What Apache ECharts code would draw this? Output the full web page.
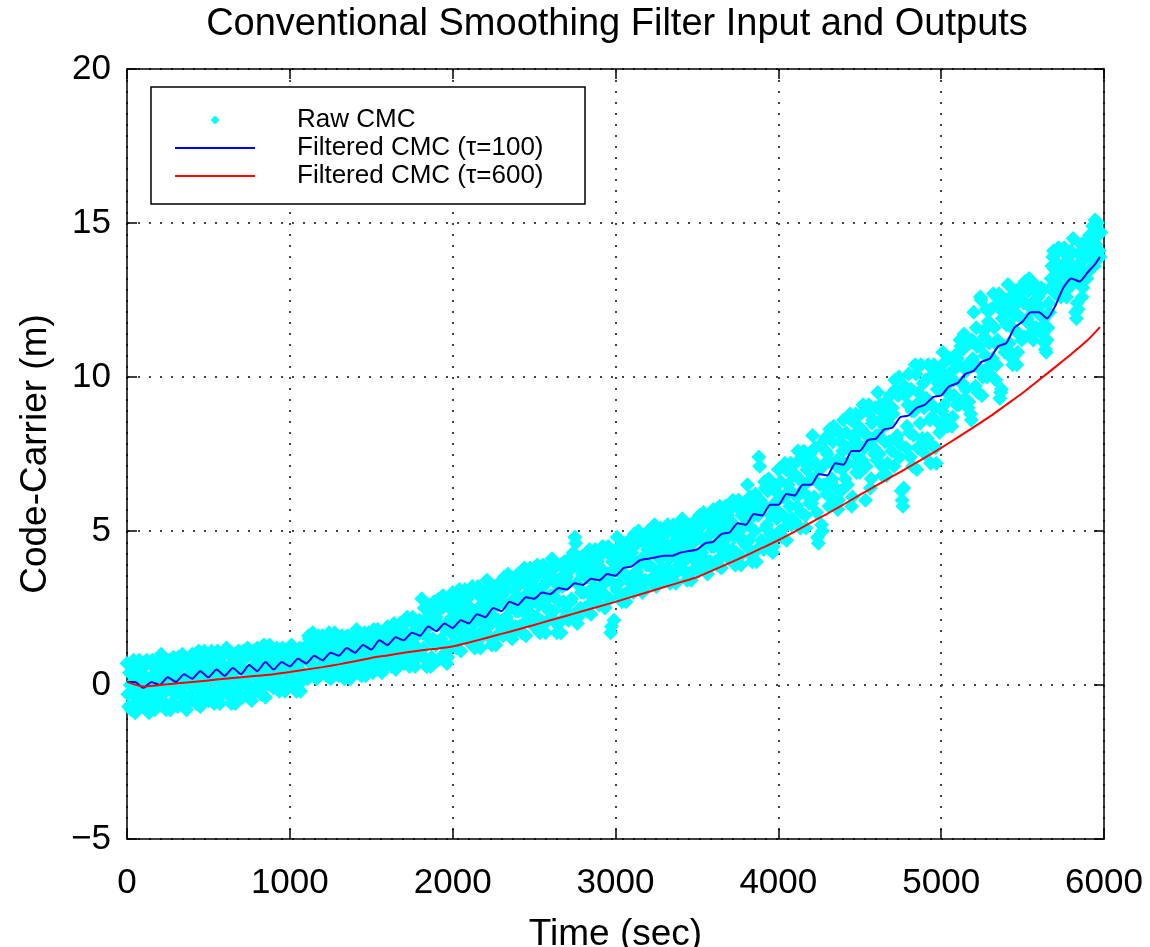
<!DOCTYPE html>
<html>
<head>
<meta charset="utf-8">
<script src="https://cdn.jsdelivr.net/npm/echarts@6/dist/echarts.min.js"></script>
<style>
html,body{margin:0;padding:0;background:#fff;}
#chart{width:1150px;height:947px;}
</style>
</head>
<body>
<div id="chart"></div>
<script>
// ---- data ----
const xTicks = [0, 1000, 2000, 3000, 4000, 5000, 6000];
const yTicks = [-5, 0, 5, 10, 15, 20];

// Raw CMC samples, one every 10 s starting at t = 0
const rawStep = 10;
const rawCMC = [
 0.7,-0.7,0.0,-0.3,0.8,-0.9,0.3,-0.1,-0.5,0.5,
 -0.7,0.2,0.8,-0.2,-0.5,0.7,0.1,-0.8,0.5,-0.3,
 0.1,1.0,-0.3,0.4,-0.8,0.3,0.8,-0.6,-0.1,0.6,
 0.4,-0.7,0.7,-0.2,1.0,-0.4,0.2,-0.6,0.6,0.0,
 1.0,-0.5,0.3,-0.1,1.1,-0.7,0.6,0.1,-0.3,0.8,
 -0.5,0.5,1.1,0.1,-0.3,0.9,0.3,-0.6,0.7,-0.1,
 0.3,1.2,-0.1,0.6,-0.6,0.5,1.0,-0.3,0.1,0.9,
 0.6,-0.4,1.0,0.1,1.2,-0.1,0.5,-0.3,0.9,0.3,
 1.2,-0.2,0.6,0.2,1.3,-0.4,0.8,0.4,0.0,1.0,
 -0.1,0.7,1.2,0.4,0.1,1.1,0.6,-0.2,0.9,0.2,
 0.6,1.3,0.2,0.8,-0.2,0.7,1.2,0.1,0.4,1.0,
 1.2,0.2,1.5,0.7,1.7,0.5,1.1,0.3,1.4,0.9,
 1.6,0.4,1.0,0.7,1.7,0.2,1.3,0.9,0.5,1.4,
 0.3,1.1,1.6,0.8,0.5,1.5,1.0,0.2,1.3,0.6,
 1.0,1.8,0.7,1.3,0.3,1.2,1.7,0.5,0.9,1.5,
 1.3,0.4,1.6,0.9,1.8,0.7,1.2,0.5,1.5,1.0,
 1.9,0.7,1.3,1.0,2.0,0.5,1.6,1.2,0.8,1.7,
 0.7,1.7,2.2,1.3,0.9,2.1,1.5,0.6,1.9,1.1,
 1.7,2.8,1.2,2.1,0.6,1.9,2.6,0.9,1.5,2.4,
 2.2,0.8,2.6,1.5,2.9,1.3,2.0,0.9,2.5,1.7,
 3.0,1.4,2.2,1.8,3.1,1.1,2.6,2.0,1.6,2.8,
 1.4,2.5,3.2,2.0,1.6,3.0,2.3,1.2,2.8,1.8,
 2.4,3.4,1.9,2.7,1.3,2.6,3.2,1.6,2.1,3.0,
 2.9,1.6,3.3,2.2,3.6,2.0,2.7,1.7,3.1,2.4,
 3.6,1.9,2.8,2.4,3.8,1.6,3.2,2.6,2.1,3.4,
 1.9,3.1,3.9,2.6,2.1,3.7,2.9,1.7,3.4,2.4,
 2.9,4.1,2.4,3.4,1.7,3.2,3.9,2.1,2.7,3.6,
 3.5,2.1,4.0,2.8,4.3,4.8,3.3,2.2,3.8,3.0,
 4.2,2.5,3.5,3.0,4.4,2.3,3.8,3.2,2.8,4.0,
 2.6,3.8,4.5,3.3,2.9,4.3,3.6,1.7,4.0,2.1,
 3.8,4.8,3.3,4.1,2.7,4.0,4.6,3.0,3.5,4.4,
 4.3,3.0,4.7,3.7,5.0,3.5,4.1,3.1,4.6,3.9,
 5.0,3.4,4.3,3.8,5.2,3.2,4.6,4.1,3.6,4.8,
 3.4,4.5,5.2,4.1,3.6,5.0,4.3,3.3,4.8,3.9,
 4.4,5.4,4.0,4.8,3.4,4.6,5.2,3.7,4.2,5.0,
 4.9,3.7,5.3,4.3,5.6,4.1,4.8,3.8,5.2,4.5,
 5.7,4.0,4.9,4.5,5.8,3.8,5.2,4.7,4.2,5.5,
 4.1,5.3,6.0,4.8,4.3,5.8,5.0,3.9,5.6,4.6,
 5.2,6.5,4.7,5.7,4.0,5.5,6.2,4.4,7.4,6.0,
 5.9,4.4,6.4,5.2,6.7,4.9,5.8,4.5,6.3,5.4,
 7.0,5.0,6.1,5.5,7.2,4.7,6.5,5.8,5.2,6.8,
 5.3,6.8,7.6,6.2,5.6,7.4,6.5,5.1,7.1,5.9,
 6.7,8.1,6.1,7.2,4.8,7.0,7.8,5.0,6.5,7.6,
 7.5,5.8,8.1,6.7,8.4,6.4,7.3,6.0,7.9,7.0,
 8.6,6.7,7.7,7.2,8.8,5.8,8.1,7.5,6.9,8.4,
 6.9,8.3,9.1,7.7,7.1,8.9,8.0,6.7,8.6,7.5,
 8.1,9.5,7.5,8.6,6.8,8.4,9.2,7.2,7.9,9.0,
 9.0,7.1,9.6,8.1,10.0,7.8,6.0,6.4,9.4,8.4,
 10.1,7.4,8.9,8.1,10.4,7.0,9.5,8.5,7.7,9.8,
 7.5,9.3,10.4,8.6,7.8,10.1,9.0,7.2,9.8,8.2,
 9.6,10.8,9.1,10.0,8.4,9.8,10.6,8.7,9.4,10.3,
 10.6,9.1,11.0,9.8,11.4,9.6,10.4,9.2,8.8,11.2,
 12.1,9.7,11.0,10.3,12.6,9.4,11.5,10.7,10.0,11.8,
 10.1,11.7,12.7,11.1,10.4,12.4,9.3,9.6,12.1,10.8,
 11.7,13.0,11.1,12.2,10.4,12.0,12.8,10.8,11.4,12.5,
 12.5,11.3,12.9,11.9,13.2,11.7,12.4,11.4,12.8,12.1,
 12.7,11.6,12.8,11.9,10.9,11.2,12.4,12.9,13.6,14.1,
 12.7,13.7,14.2,13.3,12.9,14.1,13.5,12.6,13.9,13.1,
 13.5,14.5,13.1,11.9,12.2,13.7,14.3,12.9,13.4,14.1,
 13.4,14.6,13.9,14.9,13.6,14.3,15.0,14.1,14.7
];
// Raw CMC samples in between, one every 10 s starting at t = 5
const rawStart2 = 5;
const rawCMC2 = [
 -0.3,0.4,-0.8,0.0,0.6,-0.6,0.2,0.8,-0.4,0.1,
 0.6,-0.4,0.2,-0.9,-0.1,0.8,-0.6,0.4,-0.2,0.7,
 -0.5,0.1,0.7,-0.6,0.5,-0.1,-0.8,0.3,0.9,-0.3,
 0.2,0.9,-0.2,0.6,-0.6,0.1,-0.8,0.8,-0.4,0.4,
 -0.1,0.7,-0.6,0.3,0.9,-0.4,0.5,1.1,-0.2,0.4,
 0.8,-0.2,0.5,-0.6,0.2,1.1,-0.4,0.6,0.1,1.0,
 -0.2,0.3,1.0,-0.4,0.7,0.2,-0.6,0.5,1.1,0.0,
 0.5,1.1,0.1,0.9,-0.3,0.4,-0.5,1.1,-0.1,0.7,
 0.2,0.9,-0.3,0.6,1.2,0.0,0.7,1.3,0.1,0.6,
 1.0,0.2,0.7,-0.2,0.5,1.2,0.0,0.9,0.4,1.1,
 0.1,0.6,1.1,0.0,0.9,0.5,-0.2,0.8,1.2,0.3,
 1.1,1.6,0.7,1.4,0.3,1.0,0.2,1.6,0.5,1.2,
 0.7,1.3,0.3,1.0,1.6,0.5,1.2,1.7,0.6,1.1,
 1.4,0.6,1.1,0.2,0.9,1.6,0.4,1.3,0.8,1.5,
 0.6,1.0,1.6,0.4,1.4,0.9,0.3,1.2,1.7,0.7,
 1.2,1.8,0.8,1.5,0.5,1.1,0.4,1.7,0.7,1.4,
 1.0,1.6,0.6,1.3,1.9,0.8,1.5,2.0,0.9,1.4,
 2.0,1.0,1.6,0.6,1.4,2.2,0.8,1.8,1.2,2.1,
 1.0,1.7,2.5,0.8,2.2,1.5,0.6,2.0,2.7,1.3,
 2.0,2.8,1.4,2.5,1.0,1.8,0.7,2.7,1.2,2.2,
 1.8,2.6,1.2,2.2,2.9,1.5,2.4,3.1,1.7,2.3,
 2.9,1.7,2.4,1.2,2.1,3.2,1.5,2.6,2.0,3.0,
 1.7,2.3,3.1,1.5,2.8,2.2,1.3,2.6,3.3,1.9,
 2.7,3.5,2.2,3.1,1.7,2.5,1.5,3.4,1.9,2.9,
 2.4,3.3,1.7,2.8,3.6,2.1,3.0,3.8,2.3,2.9,
 3.5,2.2,3.1,1.7,2.7,3.9,2.0,3.3,2.5,3.7,
 2.2,2.9,3.8,2.0,3.4,2.7,1.7,3.2,4.0,2.4,
 3.3,4.1,2.7,3.8,2.3,4.6,2.0,4.0,2.5,3.6,
 3.0,3.9,2.4,3.5,4.2,2.7,3.7,4.4,2.9,3.6,
 4.2,3.0,3.7,2.5,3.4,4.5,2.8,1.9,3.3,4.3,
 3.1,3.7,4.5,2.9,4.2,3.6,2.7,4.0,4.7,3.3,
 4.1,4.9,3.6,4.6,3.2,4.0,3.0,4.8,3.4,4.4,
 3.9,4.7,3.3,4.3,5.0,3.6,4.5,5.1,3.8,4.4,
 4.9,3.8,4.5,3.3,4.2,5.2,3.6,4.7,4.1,5.1,
 3.8,4.4,5.1,3.6,4.8,4.2,3.4,4.6,5.3,4.0,
 4.8,5.5,4.2,5.2,3.8,4.6,3.6,5.4,4.0,5.0,
 4.5,5.3,3.9,4.9,5.6,4.2,5.1,5.8,4.4,5.0,
 5.7,4.4,5.2,3.9,4.9,6.0,4.2,5.5,4.7,5.9,
 4.5,5.2,6.1,4.2,5.8,5.0,4.0,5.5,7.1,4.7,
 5.8,6.6,5.1,6.3,4.6,5.5,4.3,6.5,4.8,6.0,
 5.6,6.6,4.8,6.1,7.0,5.2,6.3,7.2,5.4,6.2,
 7.2,5.8,6.7,5.1,6.3,7.6,5.5,7.0,6.1,7.5,
 5.9,6.7,7.7,5.6,4.6,6.5,5.2,7.1,8.0,6.2,
 7.3,8.3,6.6,7.9,6.0,7.1,5.7,8.2,6.3,7.6,
 7.2,8.2,6.5,7.7,8.6,6.1,8.0,8.8,7.1,7.8,
 8.8,7.3,8.2,6.0,7.8,9.1,6.4,8.5,7.7,9.0,
 7.3,8.1,9.1,7.1,8.8,7.9,6.8,8.5,9.4,7.6,
 8.8,9.9,8.0,9.4,7.4,6.3,5.8,9.7,7.7,9.1,
 8.2,9.6,7.1,8.9,10.1,7.7,9.2,10.4,8.0,9.0,
 9.9,8.0,9.2,7.2,8.7,10.4,7.7,9.6,8.5,10.2,
 8.9,9.6,10.5,8.6,10.1,9.4,8.4,9.9,10.7,9.1,
 10.4,11.2,9.8,10.9,9.3,10.2,9.0,11.1,8.6,10.6,
 10.4,11.6,9.5,11.0,12.5,10.0,11.3,12.2,10.3,11.1,
 12.2,10.6,11.6,9.9,11.2,12.7,9.5,11.9,11.0,12.5,
 10.9,11.7,12.6,10.6,12.3,11.5,10.4,12.0,12.9,11.2,
 12.4,13.1,11.8,12.8,11.4,12.2,11.2,13.0,11.6,12.6,
 12.3,12.9,11.4,11.1,10.8,11.6,12.1,13.2,13.9,13.5,
 14.0,13.0,13.6,12.6,13.4,14.2,12.8,13.8,13.2,14.1,
 13.0,13.5,12.1,12.4,14.0,13.4,12.6,13.8,14.4,13.2,
 14.2,13.5,14.5,13.8,15.1,14.0,14.6,13.9
];

// Filtered CMC (tau = 100)
const tau100Time = [
 0,50,100,150,200,250,300,350,400,450,500,550,600,650,700,750,800,850,900,950,
 1000,1050,1100,1150,1200,1250,1300,1350,1400,1450,1500,1550,1600,1650,1700,1750,1800,1850,1900,1950,
 2000,2050,2100,2150,2200,2250,2300,2350,2400,2450,2500,2550,2600,2650,2700,2750,2800,2850,2900,2950,
 3000,3050,3100,3150,3200,3250,3300,3350,3400,3450,3500,3550,3600,3650,3700,3750,3800,3850,3900,3950,
 4000,4050,4100,4150,4200,4250,4300,4350,4400,4450,4500,4550,4600,4650,4700,4750,4800,4850,4900,4950,
 5000,5050,5100,5150,5200,5250,5300,5350,5400,5450,5500,5550,5600,5650,5700,5750,5800,5850,5900,5950,5975
];
const tau100Value = [
 0.1,0.1,-0.1,0.1,0.0,0.25,0.1,0.35,0.2,0.45,0.25,0.5,0.3,0.55,0.35,0.65,0.45,0.75,0.5,0.75,
 0.6,0.85,0.7,0.95,0.8,1.05,0.95,1.2,1.05,1.3,1.15,1.45,1.3,1.55,1.45,1.7,1.6,1.9,1.75,2.0,
 1.85,2.1,2.0,2.3,2.2,2.5,2.4,2.7,2.6,2.85,2.8,3.0,2.95,3.15,3.1,3.3,3.25,3.45,3.4,3.6,
 3.55,3.8,3.85,4.05,4.1,4.15,4.2,4.2,4.3,4.35,4.4,4.6,4.65,4.9,4.95,5.25,5.2,5.55,5.5,5.85,
 5.85,6.2,6.15,6.5,6.5,6.85,6.8,7.2,7.15,7.6,7.6,7.95,8.0,8.3,8.35,8.7,8.75,9.0,9.1,9.35,
 9.4,9.7,9.8,10.1,10.2,10.5,10.6,11.0,11.1,11.6,11.8,12.1,12.1,11.9,12.3,12.9,13.2,13.1,13.4,13.7,13.9
];

// Filtered CMC (tau = 600)
const tau600Time = [
 0,100,200,300,400,500,600,700,800,900,1000,1100,1200,1300,1400,1500,1600,1700,1800,1900,
 2000,2100,2200,2300,2400,2500,2600,2700,2800,2900,3000,3100,3200,3300,3400,3500,3600,3700,3800,3900,
 4000,4100,4200,4300,4400,4500,4600,4700,4800,4900,5000,5100,5200,5300,5400,5500,5600,5700,5800,5900,5975
];
const tau600Value = [
 0.1,-0.05,0.0,0.05,0.1,0.15,0.2,0.25,0.3,0.35,0.42,0.5,0.58,0.67,0.77,0.88,0.96,1.05,1.12,1.18,
 1.25,1.38,1.52,1.66,1.8,1.95,2.1,2.25,2.4,2.55,2.7,2.86,3.02,3.18,3.34,3.5,3.73,3.96,4.2,4.45,
 4.7,4.98,5.27,5.56,5.86,6.17,6.47,6.77,7.07,7.38,7.7,8.03,8.37,8.72,9.1,9.48,9.9,10.32,10.75,11.2,11.62
];

const seriesNames = ['Raw CMC', 'Filtered CMC (\u03c4=100)', 'Filtered CMC (\u03c4=600)'];
const titleText = 'Conventional Smoothing Filter Input and Outputs';
const xName = 'Time (sec)';
const yName = 'Code-Carrier (m)';

// ---- build chart ----
const FONT = 'Liberation Sans, Arial, Helvetica, sans-serif';
const rawData = rawCMC.map((v, i) => [i * rawStep, v])
  .concat(rawCMC2.map((v, i) => [rawStart2 + i * rawStep, v]));
const blueData = tau100Time.map((t, i) => [t, tau100Value[i]]);
const redData = tau600Time.map((t, i) => [t, tau600Value[i]]);

const axisLineStyle = { color: '#000', width: 1.5 };
const gridDots = { color: '#444', width: 2, type: [2, 9] };
const minus = v => String(v).replace('-', '\u2212');
const plain = v => String(v);

const chart = echarts.init(document.getElementById('chart'), null, { renderer: 'canvas' });
chart.setOption({
  animation: false,
  backgroundColor: '#fff',
  textStyle: { fontFamily: FONT },
  title: {
    text: titleText,
    left: 612, top: 1, textAlign: 'center',
    textStyle: { fontFamily: FONT, fontSize: 38, fontWeight: 'normal', color: '#000' }
  },
  grid: { left: 127, right: 46, top: 69, bottom: 108, containLabel: false, outerBoundsMode: 'none' },
  xAxis: [{
    type: 'value', position: 'bottom',
    min: xTicks[0], max: xTicks[xTicks.length - 1], interval: xTicks[1] - xTicks[0],
    name: xName, nameLocation: 'middle', nameGap: 77,
    nameTextStyle: { fontFamily: FONT, fontSize: 37, color: '#000' },
    axisLine: { show: true, onZero: false, lineStyle: axisLineStyle },
    axisTick: { show: true, inside: true, length: 10, lineStyle: axisLineStyle },
    axisLabel: { fontFamily: FONT, fontSize: 35, color: '#000', margin: 27, formatter: plain },
    splitLine: { show: true, lineStyle: gridDots }
  }, {
    type: 'value', position: 'top',
    min: xTicks[0], max: xTicks[xTicks.length - 1], interval: xTicks[1] - xTicks[0],
    axisLine: { show: true, onZero: false, lineStyle: axisLineStyle },
    axisTick: { show: true, inside: true, length: 10, lineStyle: axisLineStyle },
    axisLabel: { show: false }, splitLine: { show: false }
  }],
  yAxis: [{
    type: 'value', position: 'left',
    min: yTicks[0], max: yTicks[yTicks.length - 1], interval: yTicks[1] - yTicks[0],
    name: yName, nameLocation: 'middle', nameGap: 73, nameRotate: 90,
    nameTextStyle: { fontFamily: FONT, fontSize: 37, color: '#000' },
    axisLine: { show: true, onZero: false, lineStyle: axisLineStyle },
    axisTick: { show: true, inside: true, length: 10, lineStyle: axisLineStyle },
    axisLabel: { fontFamily: FONT, fontSize: 35, color: '#000', margin: 16, formatter: minus },
    splitLine: { show: true, lineStyle: gridDots }
  }, {
    type: 'value', position: 'right',
    min: yTicks[0], max: yTicks[yTicks.length - 1], interval: yTicks[1] - yTicks[0],
    axisLine: { show: true, onZero: false, lineStyle: axisLineStyle },
    axisTick: { show: true, inside: true, length: 10, lineStyle: axisLineStyle },
    axisLabel: { show: false }, splitLine: { show: false }
  }],
  graphic: [{
    type: 'rect', z: 10,
    shape: { x: 151, y: 87, width: 434, height: 117 },
    style: { fill: '#fff', stroke: '#000', lineWidth: 1.5 }
  }],
  legend: {
    z: 20, orient: 'vertical', left: 170, top: 101,
    itemWidth: 80, itemHeight: 9, itemGap: 0,
    selectedMode: false,
    textStyle: { fontFamily: FONT, fontSize: 26, color: '#000', lineHeight: 28, padding: [0, 0, 0, 37] },
    data: [
      { name: seriesNames[0], icon: 'path://M0,-5L5,0L0,5L-5,0Z' },
      { name: seriesNames[1], icon: 'path://M0,0H80V2H0Z' },
      { name: seriesNames[2], icon: 'path://M0,0H80V2H0Z' }
    ]
  },
  series: [{
    name: seriesNames[0], type: 'scatter',
    xAxisIndex: 0, yAxisIndex: 0,
    symbol: 'diamond', symbolSize: 15,
    itemStyle: { color: '#00ffff', opacity: 1 },
    data: rawData, z: 2
  }, {
    name: seriesNames[1], type: 'line',
    xAxisIndex: 0, yAxisIndex: 0,
    symbol: 'none', showSymbol: false, smooth: 0.2,
    lineStyle: { color: '#0000ff', width: 2 },
    itemStyle: { color: '#0000ff' },
    data: blueData, z: 3
  }, {
    name: seriesNames[2], type: 'line',
    xAxisIndex: 0, yAxisIndex: 0,
    symbol: 'none', showSymbol: false, smooth: 0.2,
    lineStyle: { color: '#ff0000', width: 2 },
    itemStyle: { color: '#ff0000' },
    data: redData, z: 4
  }]
});
</script>
</body>
</html>
